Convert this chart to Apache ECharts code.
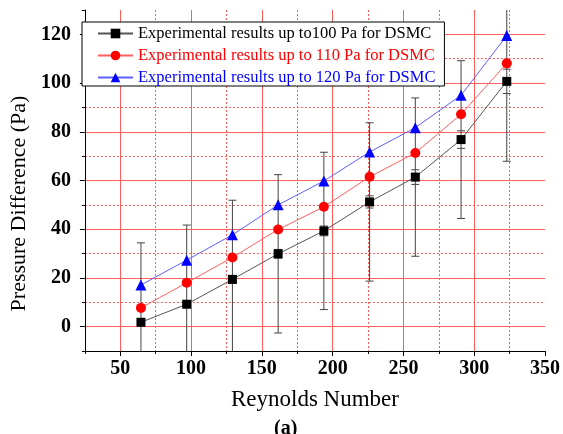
<!DOCTYPE html>
<html>
<head>
<meta charset="utf-8">
<script src="https://cdn.jsdelivr.net/npm/echarts@6/dist/echarts.min.js"></script>
<style>
html,body{margin:0;padding:0;background:#fff;}
#chart{width:563px;height:434px;}
</style>
</head>
<body>
<div id="chart"></div>
<script>
// ---- data ----
const reynolds = [64.6, 96.9, 129.2, 161.5, 193.8, 226.1, 258.4, 290.7, 323.0];
const dp100 = [1.8, 9.2, 19.4, 29.9, 39.3, 51.2, 61.4, 76.8, 100.7];
const dp110 = [7.7, 18.0, 28.4, 39.9, 49.2, 61.5, 71.3, 87.2, 108.1];
const dp120 = [17.1, 27.3, 37.7, 50.0, 59.8, 71.7, 81.7, 95.0, 119.5];
const errBig = [32.6, 32.5, 32.5, 32.5, 32.3, 32.5, 32.5, 32.4, 32.8];
const errSmall = [1.0, 1.2, 1.5, 1.8, 2.0, 2.5, 3.0, 3.6, 5.0];
const seriesNames = [
  'Experimental results up to100 Pa for DSMC',
  'Experimental results up to 110 Pa for DSMC',
  'Experimental results up to 120 Pa for DSMC'
];
const xTickLabels = [50, 100, 150, 200, 250, 300, 350];
const yTickLabels = [0, 20, 40, 60, 80, 100, 120];
const xRange = [25, 350];
const yRange = [-10, 130];

// ---- styles ----
const RED = '#ff5c5c';
const T = 'rgba(0,0,0,0)';
const serif = '"Liberation Serif", "Times New Roman", serif';

const pts = (ys) => reynolds.map((x, i) => [x, ys[i]]);
const errData = reynolds.map((x, i) => [x, dp100[i], errBig[i], errSmall[i]]);

function renderErr(params, api) {
  const x = api.value(0), y = api.value(1), e = api.value(2), s = api.value(3);
  const cs = params.coordSys;
  const top = cs.y, bot = cs.y + cs.height;
  const pHi = api.coord([x, y + e]);
  const pLo = api.coord([x, y - e]);
  const sHi = api.coord([x, y + s]);
  const sLo = api.coord([x, y - s]);
  const cx = pHi[0];
  const yHi = Math.max(top, pHi[1]);
  const yLo = Math.min(bot, pLo[1]);
  const w = 4;
  const style = {stroke: '#444', lineWidth: 1};
  const kids = [
    {type: 'line', shape: {x1: cx, y1: yHi, x2: cx, y2: yLo}, style}
  ];
  if (pHi[1] >= top) kids.push({type: 'line', shape: {x1: cx - w, y1: pHi[1], x2: cx + w, y2: pHi[1]}, style});
  if (pLo[1] <= bot) kids.push({type: 'line', shape: {x1: cx - w, y1: pLo[1], x2: cx + w, y2: pLo[1]}, style});
  kids.push({type: 'line', shape: {x1: cx - w, y1: sHi[1], x2: cx + w, y2: sHi[1]}, style});
  kids.push({type: 'line', shape: {x1: cx - w, y1: sLo[1], x2: cx + w, y2: sLo[1]}, style});
  return {type: 'group', children: kids};
}

const chart = echarts.init(document.getElementById('chart'), null, {renderer: 'canvas'});
chart.setOption({
  backgroundColor: '#fff',
  animation: false,
  title: {
    text: '(a)', left: 274, top: 419, padding: 0,
    textStyle: {fontFamily: serif, fontSize: 20, fontWeight: 'bold', color: '#000'}
  },
  grid: {left: 82, right: 15, top: 10, bottom: 83, containLabel: false},
  legend: {
    data: seriesNames.map((n, i) => ({name: n, textStyle: {color: ['#000', '#ff0000', '#0000ff'][i]}})),
    orient: 'vertical', left: 82, top: 22,
    padding: [3, 9, 0, 15],
    itemGap: 5, itemWidth: 35, itemHeight: 12,
    backgroundColor: '#fff', borderColor: '#000', borderWidth: 1, borderRadius: 0,
    textStyle: {fontFamily: serif, fontSize: 16.5, lineHeight: 14, padding: [0, 0, 0, 0]}
  },
  xAxis: [
    {
      type: 'value', min: xRange[0], max: xRange[1], interval: 25, position: 'bottom',
      name: 'Reynolds Number', nameLocation: 'middle', nameGap: 37,
      nameTextStyle: {fontFamily: serif, fontSize: 23, color: '#000'},
      axisLine: {show: true, onZero: false, lineStyle: {color: '#000', width: 1}},
      axisTick: {show: true, length: 5, lineStyle: {color: '#000'}, customValues: xTickLabels},
      axisLabel: {
        margin: 8, color: '#000', fontFamily: serif, fontSize: 20, fontWeight: 'bold',
        formatter: v => (xTickLabels.indexOf(v) >= 0 ? String(v) : '')
      },
      splitLine: {show: true, lineStyle: {color: [RED, RED, RED, RED, RED, RED, T], width: 1, type: 'solid'}}
    },
    {
      type: 'value', min: xRange[0], max: xRange[1], interval: 50, position: 'bottom',
      axisLine: {show: false, onZero: false},
      axisTick: {show: true, length: 3, lineStyle: {color: '#000'}},
      axisLabel: {show: false},
      splitLine: {show: true, lineStyle: {color: [T, RED, RED, RED, RED, RED, RED, T], width: 1, type: [2, 2]}}
    }
  ],
  yAxis: [
    {
      type: 'value', min: yRange[0], max: yRange[1], interval: 10, position: 'left',
      name: 'Pressure Difference (Pa)', nameLocation: 'middle', nameGap: 49, nameRotate: 90,
      nameTextStyle: {fontFamily: serif, fontSize: 22, color: '#000', padding: [0, 46, 0, 0]},
      axisLine: {show: true, onZero: false, lineStyle: {color: '#000', width: 1}},
      axisTick: {show: true, length: 5, lineStyle: {color: '#000'}, customValues: yTickLabels},
      axisLabel: {
        margin: 14, color: '#000', fontFamily: serif, fontSize: 20, fontWeight: 'bold',
        formatter: v => (yTickLabels.indexOf(v) >= 0 ? String(v) : '')
      },
      splitLine: {show: true, lineStyle: {color: RED, width: 1, type: 'solid'}}
    },
    {
      type: 'value', min: yRange[0], max: yRange[1], interval: 20, position: 'left',
      axisLine: {show: false, onZero: false},
      axisTick: {show: true, length: 3, lineStyle: {color: '#000'}},
      axisLabel: {show: false},
      splitLine: {show: true, lineStyle: {color: [T, RED, RED, RED, RED, RED, RED, T], width: 1, type: [2, 2]}}
    }
  ],
  series: [
    {
      type: 'custom', name: 'err', xAxisIndex: 0, yAxisIndex: 0, z: 1,
      renderItem: renderErr, data: errData, encode: {x: 0, y: 1}, clip: true, silent: true
    },
    {
      type: 'line', name: seriesNames[0], data: pts(dp100), xAxisIndex: 0, yAxisIndex: 0, z: 3,
      symbol: 'rect', symbolSize: 9,
      itemStyle: {color: '#000'},
      lineStyle: {color: '#555', width: 1}
    },
    {
      type: 'line', name: seriesNames[1], data: pts(dp110), xAxisIndex: 0, yAxisIndex: 0, z: 3,
      symbol: 'circle', symbolSize: 10,
      itemStyle: {color: '#ff0000'},
      lineStyle: {color: '#ff6060', width: 1}
    },
    {
      type: 'line', name: seriesNames[2], data: pts(dp120), xAxisIndex: 0, yAxisIndex: 0, z: 3,
      symbol: 'triangle', symbolSize: 11,
      itemStyle: {color: '#0000ff'},
      lineStyle: {color: '#6060ff', width: 1}
    }
  ]
});
</script>
</body>
</html>
